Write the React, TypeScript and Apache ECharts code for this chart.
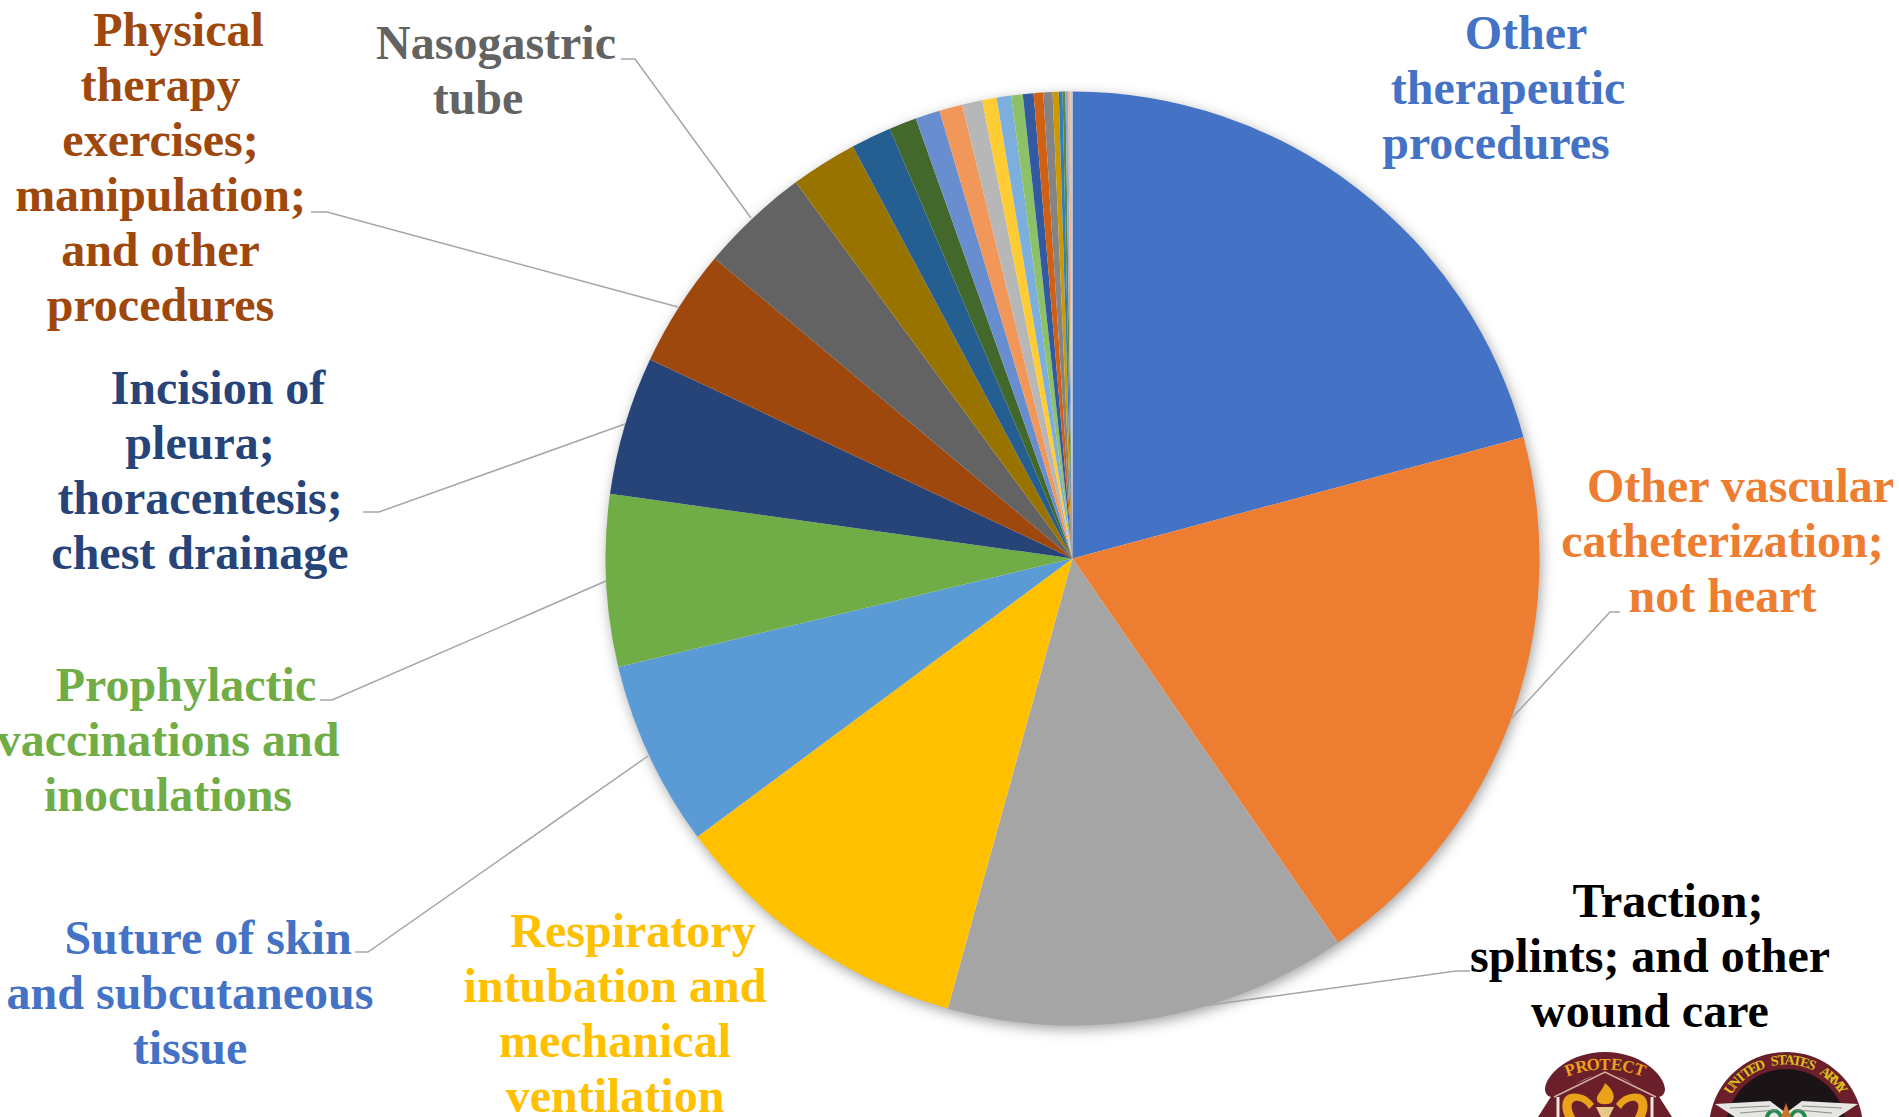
import React, { useEffect, useRef } from "react";
import * as echarts from "echarts";

const categories = [
  "Other therapeutic procedures",
  "Other vascular catheterization; not heart",
  "Traction; splints; and other wound care",
  "Respiratory intubation and mechanical ventilation",
  "Suture of skin and subcutaneous tissue",
  "Prophylactic vaccinations and inoculations",
  "Incision of pleura; thoracentesis; chest drainage",
  "Physical therapy exercises; manipulation; and other procedures",
  "Nasogastric tube",
  "Procedure 10", "Procedure 11", "Procedure 12", "Procedure 13", "Procedure 14",
  "Procedure 15", "Procedure 16", "Procedure 17", "Procedure 18", "Procedure 19",
  "Procedure 20", "Procedure 21", "Procedure 22", "Procedure 23", "Procedure 24",
  "Procedure 25", "Procedure 26", "Procedure 27",
];
const values = [
  20.83, 19.57, 13.93, 10.54, 6.43, 5.95, 4.8, 4.1, 3.8, 2.3, 1.4, 0.95, 0.85, 0.8,
  0.7, 0.5, 0.5, 0.4, 0.37, 0.33, 0.32, 0.21, 0.13, 0.1, 0.09, 0.08, 0.07,
];
const colors = [
  "#4472C4", "#ED7D31", "#A5A5A5", "#FFC000", "#5B9BD5", "#70AD47", "#264478", "#9E480E",
  "#636363", "#997300", "#255E91", "#43682B", "#698ED0", "#F1975A", "#B7B7B7", "#FFCD33",
  "#7CAFDD", "#8CC168", "#335AA1", "#D26012", "#848484", "#CC9A00", "#327DC2", "#5A8A39",
  "#8FAADC", "#F4B183", "#C9C9C9",
];
const labelLines: Record<number, string[]> = {
  0: ["Other", "therapeutic", "procedures"],
  1: ["Other vascular", "catheterization;", "not heart"],
  2: ["Traction;", "splints; and other", "wound care"],
  3: ["Respiratory", "intubation and", "mechanical", "ventilation"],
  4: ["Suture of skin", "and subcutaneous", "tissue"],
  5: ["Prophylactic", "vaccinations and", "inoculations"],
  6: ["Incision of", "pleura;", "thoracentesis;", "chest drainage"],
  7: ["Physical", "therapy", "exercises;", "manipulation;", "and other", "procedures"],
  8: ["Nasogastric", "tube"],
};
const labelColors: Record<number, string> = { 2: "#000000", 4: "#4472C4" };
const labelAnchors: Record<number, [number, number]> = {
  0: [1508, 87.5], 1: [1722.5, 540], 2: [1650, 955], 3: [615, 1012.5], 4: [190, 992],
  5: [168, 739.5], 6: [200, 469.5], 7: [160.5, 166.5], 8: [478, 70],
};
const leaders: number[][][] = [
  [[621, 59], [635, 59], [751, 218]],
  [[311, 212], [327, 212], [678, 307]],
  [[363, 512], [379, 512], [625, 424]],
  [[320, 700], [332, 700], [606, 581]],
  [[355, 952], [368, 952], [648, 756]],
  [[1620, 612], [1610, 612], [1512, 718]],
  [[1470, 971], [1456, 971], [1137, 1015]],
];

const FONT = '"Liberation Serif", "Times New Roman", serif';
const tok = { fontFamily: FONT, fontWeight: "bold", fontSize: 48, lineHeight: 55 };
const MAROON = "#6B1F2A";
const GOLD = "#E9A21A";

function arcLetters(text: string, cx: number, cy: number, r: number, a0: number, a1: number, fontSize: number, fill: string, fontFamily: string) {
  return text.split("").map((ch, i) => {
    const a = a0 + ((a1 - a0) * i) / (text.length - 1);
    const rad = (a * Math.PI) / 180;
    return {
      type: "text",
      x: cx + r * Math.sin(rad),
      y: cy - r * Math.cos(rad),
      rotation: -rad,
      z: 20,
      silent: true,
      style: { text: ch, fill, font: `bold ${fontSize}px ${fontFamily}`, align: "center", verticalAlign: "middle" },
    };
  });
}

const shapes: Record<string, string> = {
  archS: "M1545 1089 C1546 1074 1570 1052 1605 1052 C1640 1052 1664 1074 1665 1089 C1665 1096 1659 1099 1652 1096 C1640 1088 1622 1074 1605 1074 C1588 1074 1570 1088 1558 1096 C1551 1099 1545 1096 1545 1089 Z",
  lowerS: "M1552 1095 L1605 1070 L1658 1095 L1672 1117 L1538 1117 Z",
  snakeLS: "M1594 1104 C1588 1095 1578 1092 1570 1094 C1561 1097 1561 1108 1565 1117 L1575 1117 C1571 1109 1570 1103 1575 1101 C1581 1100 1586 1104 1589 1109 Z",
  snakeRS: "M1616 1104 C1622 1095 1632 1092 1640 1094 C1649 1097 1649 1108 1645 1117 L1635 1117 C1639 1109 1640 1103 1635 1101 C1629 1100 1624 1104 1621 1109 Z",
  flameS: "M1605 1083 C1613 1090 1616 1096 1612 1102 C1610 1105 1600 1105 1598 1102 C1594 1096 1602 1092 1605 1083 Z",
  torchS: "M1596 1107 L1614 1107 L1609 1117 L1601 1117 Z",
  wingsS: "M1715 1104 L1770 1101 L1786 1113 L1802 1101 L1858 1104 L1838 1117 L1735 1117 Z",
  greenLS: "M1765 1117 C1767 1107 1780 1106 1783 1117 L1779 1117 C1777 1111 1771 1111 1769 1117 Z",
  greenRS: "M1789 1117 C1792 1106 1805 1107 1807 1117 L1803 1117 C1801 1111 1795 1111 1793 1117 Z",
  spikeS: "M1786 1103 L1791 1117 L1781 1117 Z",
};
Object.keys(shapes).forEach((k) => {
  echarts.graphic.registerShape(k, echarts.graphic.extendPath(shapes[k], {}));
});

const shapeEl = (type: string, fill: string) => ({ type, z: 18, silent: true, style: { fill } });
const strip = (pts: number[][], stroke: string, lineWidth: number) => ({
  type: "polyline", z: 19, silent: true, shape: { points: pts }, style: { stroke, lineWidth, fill: "none" },
});

export default function App() {
  const ref = useRef<HTMLDivElement>(null);
  useEffect(() => {
    const chart = echarts.init(ref.current!, null, { renderer: "svg" });
    const cx = 1072.5, cy = 558.5, R = 467;
    const rich = {
      a: { ...tok, padding: [0, 0, 0, 36] },
      b: { ...tok },
      c: { ...tok, padding: [0, 24, 0, 0] },
    };
    chart.setOption({
      animation: false,
      backgroundColor: "#ffffff",
      graphic: {
        elements: [
          {
            type: "circle", z: 0, silent: true,
            shape: { cx, cy, r: R - 1 },
            style: { fill: "#ffffff", shadowBlur: 14, shadowColor: "rgba(0,0,0,0.4)", shadowOffsetX: 2, shadowOffsetY: 4 },
          },
          ...leaders.map((pts) => ({
            type: "polyline", z: 10, silent: true,
            shape: { points: pts },
            style: { stroke: "#A6A6A6", lineWidth: 1.5, fill: "none" },
          })),
          shapeEl("lowerS", MAROON),
          shapeEl("archS", MAROON),
          strip([[1554, 1097], [1605, 1072], [1656, 1097]], "#D8B09C", 1.5),
          strip([[1558, 1097], [1558, 1117]], "#F2E6DC", 3),
          strip([[1652, 1097], [1652, 1117]], "#F2E6DC", 3),
          shapeEl("snakeLS", GOLD),
          shapeEl("snakeRS", GOLD),
          shapeEl("flameS", GOLD),
          shapeEl("torchS", "#E8C98A"),
          ...arcLetters("PROTECT", 1605, 1171, 107, -19, 19, 17, GOLD, FONT),
          { type: "circle", z: 17, silent: true, shape: { cx: 1786, cy: 1129, r: 77 }, style: { fill: MAROON } },
          { type: "circle", z: 18, silent: true, shape: { cx: 1786, cy: 1129, r: 60 }, style: { fill: "#1A1416" } },
          shapeEl("wingsS", "#E6E6E2"),
          strip([[1730, 1108], [1770, 1106]], "#8C8C88", 1),
          strip([[1740, 1113], [1776, 1110]], "#8C8C88", 1),
          strip([[1842, 1108], [1802, 1106]], "#8C8C88", 1),
          strip([[1832, 1113], [1796, 1110]], "#8C8C88", 1),
          shapeEl("greenLS", "#1F8A4C"),
          shapeEl("greenRS", "#1F8A4C"),
          shapeEl("spikeS", "#C8742C"),
          ...arcLetters("UNITED STATES ARMY", 1786, 1129, 69, -54, 54, 14, "#DDBE1E", FONT),
        ],
      },
      series: [
        {
          type: "pie",
          z: 5,
          silent: true,
          clockwise: true,
          startAngle: 90,
          center: [cx, cy],
          radius: [0, R],
          avoidLabelOverlap: false,
          minAngle: 0,
          labelLine: { show: false },
          itemStyle: { borderWidth: 0 },
          labelLayout: (p: any) => {
            const a = labelAnchors[p.dataIndex];
            return a ? { x: a[0], y: a[1], align: "center", verticalAlign: "middle", hideOverlap: false } : {};
          },
          data: categories.map((name, i) => {
            const lines = labelLines[i];
            const item: any = { name, value: values[i], itemStyle: { color: colors[i] } };
            if (lines) {
              const text = lines
                .map((l, j) => {
                  if (j === 0) return `{a|${l}}`;
                  if (i === 0 && j === 2) return `{c|${l}}`;
                  return `{b|${l}}`;
                })
                .join("\n");
              item.label = {
                show: true,
                position: "outside",
                formatter: () => text,
                color: labelColors[i] ?? colors[i],
                align: "center",
                rich,
                ...tok,
              };
            } else {
              item.label = { show: false };
            }
            return item;
          }),
        },
      ],
    });
    return () => chart.dispose();
  }, []);
  return (
    <div style={{ position: "fixed", left: 0, top: 0, width: 1899, height: 1117, background: "#fff" }}>
      <div ref={ref} style={{ width: 1899, height: 1117 }} />
    </div>
  );
}
